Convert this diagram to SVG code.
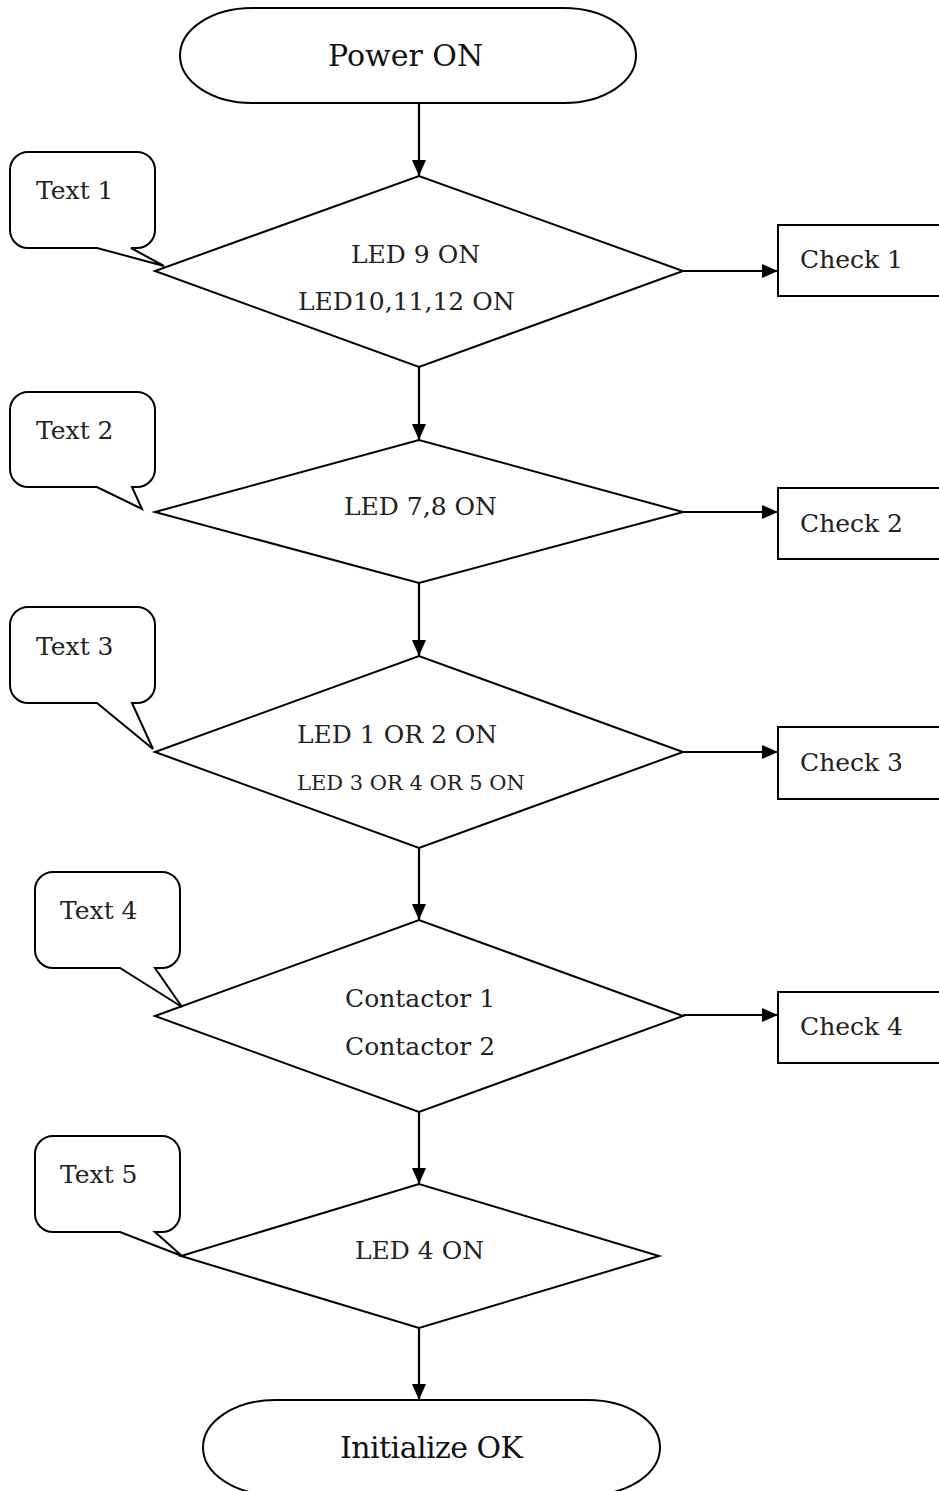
<svg xmlns="http://www.w3.org/2000/svg" width="939" height="1491" viewBox="0 0 939 1491">
<defs>
<style>
.s{fill:#fff;stroke:#000;stroke-width:2}
.c{fill:none;stroke:#000;stroke-width:2.2}
text{font-family:"DejaVu Serif","Liberation Serif",serif;font-size:25px;fill:#222}
.big{font-size:30px;fill:#111}
.sm{font-size:21px}
</style>
<marker id="ah" viewBox="0 0 16 14" refX="16" refY="7" markerWidth="16" markerHeight="14" markerUnits="userSpaceOnUse" orient="auto">
<path d="M0,0 L16,7 L0,14 Z" fill="#000"/>
</marker>
</defs>
<rect width="939" height="1491" fill="#fff"/>

<g id="start">
<rect class="s" x="180" y="8" width="456" height="95" rx="72" ry="47.5"/>
<text class="big" x="328" y="66">Power ON</text>
</g>

<g id="d1">
<polygon class="s" points="155,271 419,176 683,271 419,367"/>
<text x="351" y="263">LED 9 ON</text>
<text x="298" y="310">LED10,11,12 ON</text>
</g>
<g id="d2">
<polygon class="s" points="155,512 419,440 683,512 419,583"/>
<text x="344" y="515">LED 7,8 ON</text>
</g>
<g id="d3">
<polygon class="s" points="155,752 419,656 683,752 419,848"/>
<text x="297" y="743">LED 1 OR 2 ON</text>
<text class="sm" x="297" y="790">LED 3 OR 4 OR 5 ON</text>
</g>
<g id="d4">
<polygon class="s" points="155,1016 419,920 683,1016 419,1112"/>
<text x="345" y="1007">Contactor 1</text>
<text x="345" y="1055">Contactor 2</text>
</g>
<g id="d5">
<polygon class="s" points="181,1256 419,1184 659,1256 419,1328"/>
<text x="355" y="1259">LED 4 ON</text>
</g>

<g id="end">
<rect class="s" x="203" y="1400" width="457" height="95" rx="72" ry="47.5"/>
<text class="big" x="340" y="1458" textLength="183">Initialize OK</text>
</g>

<g id="callout1">
<path class="s" d="M28,152 H137 A18,18 0 0 1 155,170 V230 A18,18 0 0 1 137,248 H131 L164,266 L97,248 H28 A18,18 0 0 1 10,230 V170 A18,18 0 0 1 28,152 Z"/>
<text x="36" y="199">Text 1</text>
</g>
<g id="callout2">
<path class="s" d="M28,392 H137 A18,18 0 0 1 155,410 V469 A18,18 0 0 1 137,487 H132 L142,509 L97,487 H28 A18,18 0 0 1 10,469 V410 A18,18 0 0 1 28,392 Z"/>
<text x="36" y="439">Text 2</text>
</g>
<g id="callout3">
<path class="s" d="M28,607 H137 A18,18 0 0 1 155,625 V685 A18,18 0 0 1 137,703 H132 L153,749 L97,703 H28 A18,18 0 0 1 10,685 V625 A18,18 0 0 1 28,607 Z"/>
<text x="36" y="655">Text 3</text>
</g>
<g id="callout4">
<path class="s" d="M53,872 H162 A18,18 0 0 1 180,890 V950 A18,18 0 0 1 162,968 H155 L182,1007 L120,968 H53 A18,18 0 0 1 35,950 V890 A18,18 0 0 1 53,872 Z"/>
<text x="60" y="919">Text 4</text>
</g>
<g id="callout5">
<path class="s" d="M53,1136 H162 A18,18 0 0 1 180,1154 V1214 A18,18 0 0 1 162,1232 H155 L182,1256 L120,1232 H53 A18,18 0 0 1 35,1214 V1154 A18,18 0 0 1 53,1136 Z"/>
<text x="60" y="1183">Text 5</text>
</g>

<g id="check1">
<rect class="s" x="778" y="225" width="175" height="71"/>
<text x="800" y="268">Check 1</text>
</g>
<g id="check2">
<rect class="s" x="778" y="488" width="175" height="71"/>
<text x="800" y="532">Check 2</text>
</g>
<g id="check3">
<rect class="s" x="778" y="727" width="175" height="72"/>
<text x="800" y="771">Check 3</text>
</g>
<g id="check4">
<rect class="s" x="778" y="992" width="175" height="71"/>
<text x="800" y="1035">Check 4</text>
</g>

<g id="connectors">
<line class="c" x1="419" y1="103" x2="419" y2="176" marker-end="url(#ah)"/>
<line class="c" x1="419" y1="367" x2="419" y2="440" marker-end="url(#ah)"/>
<line class="c" x1="419" y1="583" x2="419" y2="656" marker-end="url(#ah)"/>
<line class="c" x1="419" y1="848" x2="419" y2="920" marker-end="url(#ah)"/>
<line class="c" x1="419" y1="1112" x2="419" y2="1184" marker-end="url(#ah)"/>
<line class="c" x1="419" y1="1328" x2="419" y2="1400" marker-end="url(#ah)"/>
<line class="c" x1="683" y1="271" x2="778" y2="271" marker-end="url(#ah)"/>
<line class="c" x1="683" y1="512" x2="778" y2="512" marker-end="url(#ah)"/>
<line class="c" x1="683" y1="752" x2="778" y2="752" marker-end="url(#ah)"/>
<line class="c" x1="683" y1="1015" x2="778" y2="1015" marker-end="url(#ah)"/>
</g>
</svg>
